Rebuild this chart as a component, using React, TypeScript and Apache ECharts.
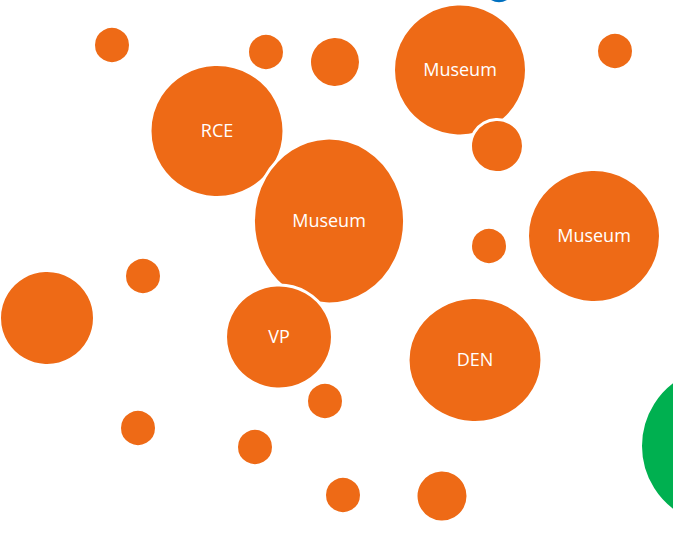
import React, { useEffect, useRef } from "react";
import * as echarts from "echarts";

const labels = ["", "", "", "Museum", "", "RCE", "", "Museum", "Museum", "", "", "", "VP", "DEN", "", "", "", "", "", "", ""];
const xs = [112, 266, 335, 460, 615, 217, 497, 329, 594, 489, 143, 47, 279, 475, 325, 138, 255, 343, 442, 721, 499];
const ys = [45, 52, 62, 70, 51, 131, 146, 221, 236, 246, 276, 318, 337, 360, 401, 428, 447, 495, 496, 446, -15];
const widths = [34, 34, 48, 130, 34, 131, 50, 148, 130, 34, 34, 92, 104, 131, 34, 34, 34, 34, 49, 158, 34];
const heights = [34, 34, 48, 129, 34, 130, 50, 163, 130, 34, 34, 92, 101, 122, 34, 34, 34, 34, 49, 158, 34];
const groups = ["o", "o", "o", "o", "o", "o", "o", "o", "o", "o", "o", "o", "o", "o", "o", "o", "o", "o", "o", "g", "b"];

const palette: Record<string, string> = { o: "#EE6A16", g: "#00B050", b: "#0070C0" };

export default function App() {
  const ref = useRef<HTMLDivElement>(null);
  useEffect(() => {
    if (!ref.current) return;
    const chart = echarts.init(ref.current, undefined, { renderer: "svg" });
    const border = 3;
    const data = xs.map((x, i) => ({
      value: [x, ys[i]],
      symbolSize: [widths[i] + border, heights[i] + border],
      itemStyle: { color: palette[groups[i]] },
      label: {
        show: labels[i] !== "",
        formatter: labels[i],
      },
    }));
    chart.setOption({
      animation: false,
      grid: { left: 0, top: 0, right: 0, bottom: 0 },
      xAxis: { type: "value", min: 0, max: 773, show: false },
      yAxis: { type: "value", min: -100, max: 533, inverse: true, show: false },
      series: [
        {
          type: "scatter",
          symbol: "circle",
          clip: false,
          data,
          itemStyle: { borderColor: "#ffffff", borderWidth: border, opacity: 1 },
          label: {
            position: "inside",
            color: "#ffffff",
            fontFamily: "Open Sans",
            fontSize: 18,
            offset: [0, -1.5],
          },
          emphasis: { disabled: true },
        },
      ],
    });
    return () => chart.dispose();
  }, []);
  return (
    <div
      style={{ position: "fixed", left: 0, top: 0, width: 673, height: 533, background: "#ffffff", overflow: "hidden" }}
    >
      <div ref={ref} style={{ position: "absolute", left: 0, top: -100, width: 773, height: 633 }} />
    </div>
  );
}
